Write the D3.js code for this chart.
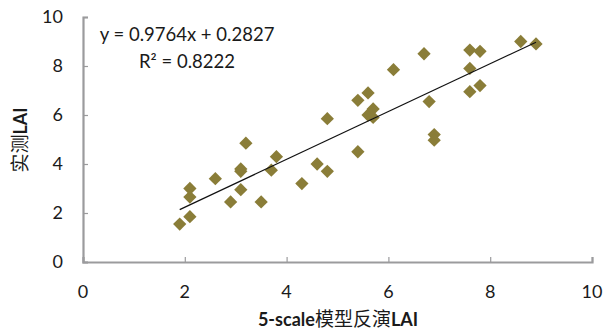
<!DOCTYPE html>
<html>
<head>
<meta charset="utf-8">
<script src="https://cdn.jsdelivr.net/npm/d3@7"></script>
<style>
  body { margin: 0; background: #fff; }
  text { font-family: Lato, "Noto Sans CJK SC", sans-serif; fill: #1a1a1a; }
</style>
</head>
<body>
<script>
// model-retrieved (x) vs measured (y) LAI
var modelLAI = [1.9, 2.1, 2.1, 2.1, 2.6, 2.9, 3.1, 3.1, 3.1, 3.2, 3.5, 3.7, 3.8, 4.3, 4.6, 4.8, 4.8,
                5.4, 5.4, 5.6, 5.6, 5.7, 5.7, 6.1, 6.7, 6.8, 6.9, 6.9, 7.6, 7.8, 7.6, 7.6, 7.8, 8.6, 8.9];
var measuredLAI = [1.55, 1.85, 2.65, 3.0, 3.4, 2.45, 2.95, 3.7, 3.8, 4.85, 2.45, 3.75, 4.3, 3.2, 4.0, 3.7, 5.85,
                   4.5, 6.6, 6.9, 6.0, 6.25, 5.9, 7.85, 8.5, 6.55, 5.2, 4.97, 8.65, 8.6, 7.9, 6.95, 7.2, 9.0, 8.9];
var xTicks = [0, 2, 4, 6, 8, 10];
var yTicks = [0, 2, 4, 6, 8, 10];
var slope = 0.9764, intercept = 0.2827;
var eqLines = ["y = 0.9764x + 0.2827", "R\u00b2 = 0.8222"];

var width = 604, height = 331;
var margin = {left: 83, right: 12, top: 17, bottom: 69};

var svg = d3.select("body").append("svg")
    .attr("width", width)
    .attr("height", height);

var x = d3.scaleLinear().domain([0, 10]).range([margin.left, width - margin.right]);
var y = d3.scaleLinear().domain([0, 10]).range([height - margin.bottom, margin.top]);

var axisColor = "#9b9b9d";

// axes, ticks on the inside
var yAxis = svg.append("g")
    .attr("transform", "translate(" + x(0) + ",0)")
    .call(d3.axisRight(y).tickValues(yTicks).tickSize(5).tickFormat(""));
var xAxis = svg.append("g")
    .attr("transform", "translate(0," + y(0) + ")")
    .call(d3.axisTop(x).tickValues(xTicks).tickSize(5).tickFormat(""));
[xAxis, yAxis].forEach(function (g) {
    g.select(".domain").attr("stroke", axisColor).attr("stroke-width", 2.2);
    g.selectAll(".tick line").attr("stroke", axisColor).attr("stroke-width", 1.2);
});

// tick labels
svg.selectAll(".ylab").data(yTicks).enter().append("text")
    .attr("x", x(0) - 20)
    .attr("y", function (d) { return y(d); })
    .attr("dy", "0.35em")
    .attr("text-anchor", "end")
    .attr("font-size", 18)
    .text(function (d) { return d; });
svg.selectAll(".xlab").data(xTicks).enter().append("text")
    .attr("x", function (d) { return x(d); })
    .attr("y", y(0) + 30)
    .attr("dy", "0.35em")
    .attr("text-anchor", "middle")
    .attr("font-size", 18)
    .text(function (d) { return d; });

// points
var pts = d3.range(modelLAI.length).map(function (i) { return [modelLAI[i], measuredLAI[i]]; });
var diamond = d3.symbol().type(d3.symbolSquare).size(88);
svg.append("g").selectAll("path").data(pts).enter().append("path")
    .attr("d", diamond)
    .attr("transform", function (d) { return "translate(" + x(d[0]) + "," + y(d[1]) + ") rotate(45)"; })
    .attr("fill", "#8a7d38");

// trend line
var xr = d3.extent(modelLAI);
svg.append("line")
    .attr("x1", x(xr[0])).attr("y1", y(slope * xr[0] + intercept))
    .attr("x2", x(xr[1])).attr("y2", y(slope * xr[1] + intercept))
    .attr("stroke", "#111")
    .attr("stroke-width", 1.2);

// equation
svg.selectAll(".eq").data(eqLines).enter().append("text")
    .attr("x", 187)
    .attr("y", function (d, i) { return 35 + i * 27; })
    .attr("dy", "0.35em")
    .attr("text-anchor", "middle")
    .attr("font-size", 18.5)
    .text(function (d) { return d; });

// axis titles: latin parts bold, chinese regular
function title(el, parts) {
    parts.forEach(function (p) {
        el.append("tspan")
            .attr("font-weight", p[1] ? "bold" : "normal")
            .attr("font-size", p[1] ? 18 : 19)
            .text(p[0]);
    });
}
var xt = svg.append("text")
    .attr("x", 338).attr("y", 320)
    .attr("dy", "0.35em")
    .attr("text-anchor", "middle");
title(xt, [["5-scale", true], ["模型反演", false], ["LAI", true]]);
var yt = svg.append("text")
    .attr("transform", "translate(21,140) rotate(-90)")
    .attr("dy", "0.35em")
    .attr("text-anchor", "middle");
title(yt, [["实测", false], ["LAI", true]]);
</script>
</body>
</html>
